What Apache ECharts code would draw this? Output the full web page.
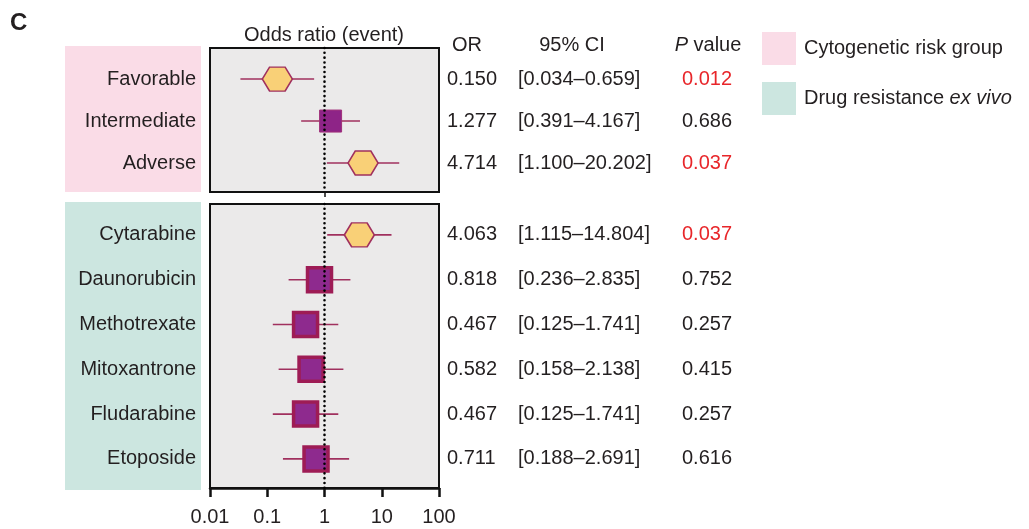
<!DOCTYPE html>
<html>
<head>
<meta charset="utf-8">
<script src="https://cdn.jsdelivr.net/npm/echarts@6/dist/echarts.min.js"></script>
<style>
  html, body { margin: 0; padding: 0; background: #fff; }
  #chart { width: 1029px; height: 529px; }
</style>
</head>
<body>
<div id="chart"></div>
<script>
const cytoLabels = ['Favorable', 'Intermediate', 'Adverse'];
const cytoOR = [0.150, 1.277, 4.714];
const cytoLow = [0.034, 0.391, 1.100];
const cytoHigh = [0.659, 4.167, 20.202];
const cytoP = [0.012, 0.686, 0.037];

const drugLabels = ['Cytarabine', 'Daunorubicin', 'Methotrexate', 'Mitoxantrone', 'Fludarabine', 'Etoposide'];
const drugOR = [4.063, 0.818, 0.467, 0.582, 0.467, 0.711];
const drugLow = [1.115, 0.236, 0.125, 0.158, 0.125, 0.188];
const drugHigh = [14.804, 2.835, 1.741, 2.138, 1.741, 2.691];
const drugP = [0.037, 0.752, 0.257, 0.415, 0.257, 0.616];

const xTicks = [0.01, 0.1, 1, 10, 100];

const FONT = '"Liberation Sans", Arial, sans-serif';
const TEXT = '#231f20';
const LINE = '#a0305e';
const HEX = 'path://M0,5L2.9,0L9.1,0L12,5L9.1,10L2.9,10Z';

const chart = echarts.init(document.getElementById('chart'));

const markerItem = (or, i, p, bigSquare) => {
  if (p < 0.05) {
    return {
      value: [or, i],
      symbol: HEX,
      symbolSize: [30, 24],
      itemStyle: { color: '#f9d077', borderColor: LINE, borderWidth: 1.5, opacity: 1 }
    };
  }
  return {
    value: [or, i],
    symbol: 'rect',
    symbolSize: bigSquare ? 24 : 22,
    itemStyle: bigSquare
      ? { color: '#8e2a8e', borderColor: '#9e1c55', borderWidth: 3.5, opacity: 1 }
      : { color: '#8e2487', borderColor: '#a0307a', borderWidth: 1, opacity: 1 }
  };
};

const statsLabel = (ors, lows, highs, ps) => (v) => {
  const i = Math.round(v);
  const pStyle = ps[i] < 0.05 ? 'ps' : 'p';
  return '{or|' + ors[i].toFixed(3) + '}{ci|[' + lows[i].toFixed(3) + '–' + highs[i].toFixed(3) + ']}{' +
    pStyle + '|' + ps[i].toFixed(3) + '}';
};

const richCols = {
  or: { width: 71, align: 'left', fontSize: 20, color: TEXT, fontFamily: FONT },
  ci: { width: 164, align: 'left', fontSize: 20, color: TEXT, fontFamily: FONT },
  p: { align: 'left', fontSize: 20, color: TEXT, fontFamily: FONT },
  ps: { align: 'left', fontSize: 20, color: '#e8262a', fontFamily: FONT }
};

const errorBars = (grid, lows, highs) => ({
  type: 'custom',
  xAxisIndex: grid,
  yAxisIndex: grid * 2,
  z: 2,
  encode: { x: [0, 1], y: 2 },
  data: lows.map((l, i) => [l, highs[i], i]),
  renderItem: (params, api) => {
    const a = api.coord([api.value(0), api.value(2)]);
    const b = api.coord([api.value(1), api.value(2)]);
    return {
      type: 'line',
      shape: { x1: a[0], y1: a[1], x2: b[0], y2: b[1] },
      style: { stroke: LINE, lineWidth: 1.6 }
    };
  }
});

const refLine = (grid) => ({
  type: 'scatter',
  xAxisIndex: grid,
  yAxisIndex: grid * 2,
  z: 1,
  data: [],
  markLine: {
    silent: true,
    symbol: 'none',
    label: { show: false },
    lineStyle: { color: '#000', width: 2.6, type: [0.01, 4.8], cap: 'round' },
    data: [{ xAxis: 1 }]
  }
});

const yLeft = (grid, labels, min, max) => ({
  type: 'value',
  gridIndex: grid,
  inverse: true,
  min: min,
  max: max,
  splitLine: { show: false },
  axisLine: { show: false },
  axisTick: { show: false },
  axisLabel: {
    customValues: labels.map((_, i) => i),
    formatter: (v) => labels[Math.round(v)],
    fontSize: 20,
    fontFamily: FONT,
    color: TEXT,
    margin: 14
  }
});

const yRight = (grid, ors, lows, highs, ps, min, max) => ({
  type: 'value',
  gridIndex: grid,
  position: 'right',
  inverse: true,
  min: min,
  max: max,
  splitLine: { show: false },
  axisLine: { show: false },
  axisTick: { show: false },
  axisLabel: {
    customValues: ors.map((_, i) => i),
    formatter: statsLabel(ors, lows, highs, ps),
    rich: richCols,
    margin: 8
  }
});

const option = {
  animation: false,
  backgroundColor: '#fff',
  textStyle: { fontFamily: FONT },
  grid: [
    { left: 210, top: 48, width: 229, height: 144, show: true, backgroundColor: '#ebeaea', borderColor: '#111', borderWidth: 2 },
    { left: 210, top: 204, width: 229, height: 284, show: true, backgroundColor: '#ebeaea', borderColor: '#111', borderWidth: 2 }
  ],
  xAxis: [
    {
      type: 'log',
      gridIndex: 0,
      min: 0.01,
      max: 100,
      splitLine: { show: false },
      axisLine: { show: true, onZero: false, lineStyle: { color: '#111', width: 2 } },
      axisLabel: { show: false },
      axisTick: { show: true, customValues: [1], length: 5, lineStyle: { color: '#111', width: 1.5 } }
    },
    {
      type: 'log',
      gridIndex: 1,
      min: 0.01,
      max: 100,
      splitLine: { show: false },
      axisLine: { show: true, onZero: false, lineStyle: { color: '#111', width: 2.5 } },
      axisTick: { show: true, customValues: xTicks, length: 9, lineStyle: { color: '#111', width: 2.5 } },
      axisLabel: {
        customValues: xTicks,
        formatter: (v) => String(v),
        fontSize: 20,
        fontFamily: FONT,
        color: TEXT,
        margin: 19
      }
    }
  ],
  yAxis: [
    yLeft(0, cytoLabels, -0.74, 2.69),
    yRight(0, cytoOR, cytoLow, cytoHigh, cytoP, -0.74, 2.69),
    yLeft(1, drugLabels, -0.69, 5.65),
    yRight(1, drugOR, drugLow, drugHigh, drugP, -0.69, 5.65)
  ],
  series: [
    refLine(0),
    errorBars(0, cytoLow, cytoHigh),
    {
      type: 'scatter',
      xAxisIndex: 0,
      yAxisIndex: 0,
      z: 3,
      data: cytoOR.map((v, i) => markerItem(v, i, cytoP[i], false))
    },
    refLine(1),
    errorBars(1, drugLow, drugHigh),
    {
      type: 'scatter',
      xAxisIndex: 1,
      yAxisIndex: 2,
      z: 3,
      data: drugOR.map((v, i) => markerItem(v, i, drugP[i], true))
    }
  ],
  graphic: [
    { type: 'rect', z: -10, shape: { x: 65, y: 46, width: 136, height: 146 }, style: { fill: '#fadce7' } },
    { type: 'rect', z: -10, shape: { x: 65, y: 202, width: 136, height: 288 }, style: { fill: '#cce6e0' } },
    { type: 'text', x: 10, y: 11, style: { text: 'C', font: 'bold 24px ' + FONT, fill: TEXT } },
    { type: 'text', x: 324, y: 35, style: { text: 'Odds ratio (event)', font: '20px ' + FONT, fill: TEXT, textAlign: 'center', textVerticalAlign: 'middle' } },
    { type: 'text', x: 467, y: 45, style: { text: 'OR', font: '20px ' + FONT, fill: TEXT, textAlign: 'center', textVerticalAlign: 'middle' } },
    { type: 'text', x: 572, y: 45, style: { text: '95% CI', font: '20px ' + FONT, fill: TEXT, textAlign: 'center', textVerticalAlign: 'middle' } },
    {
      type: 'text', x: 708, y: 45,
      style: {
        text: '{i|P} value', font: '20px ' + FONT, fill: TEXT, textAlign: 'center', textVerticalAlign: 'middle',
        rich: { i: { fontStyle: 'italic', fontSize: 20, fontFamily: FONT, fill: TEXT } }
      }
    },
    { type: 'rect', shape: { x: 762, y: 32, width: 34, height: 33 }, style: { fill: '#fadce7' } },
    { type: 'rect', shape: { x: 762, y: 82, width: 34, height: 33 }, style: { fill: '#cce6e0' } },
    { type: 'text', x: 804, y: 48, style: { text: 'Cytogenetic risk group', font: '20px ' + FONT, fill: TEXT, textVerticalAlign: 'middle' } },
    {
      type: 'text', x: 804, y: 98,
      style: {
        text: 'Drug resistance {i|ex vivo}', font: '20px ' + FONT, fill: TEXT, textVerticalAlign: 'middle',
        rich: { i: { fontStyle: 'italic', fontSize: 20, fontFamily: FONT, fill: TEXT } }
      }
    }
  ]
};

chart.setOption(option);
window.addEventListener('resize', () => chart.resize());
</script>
</body>
</html>
